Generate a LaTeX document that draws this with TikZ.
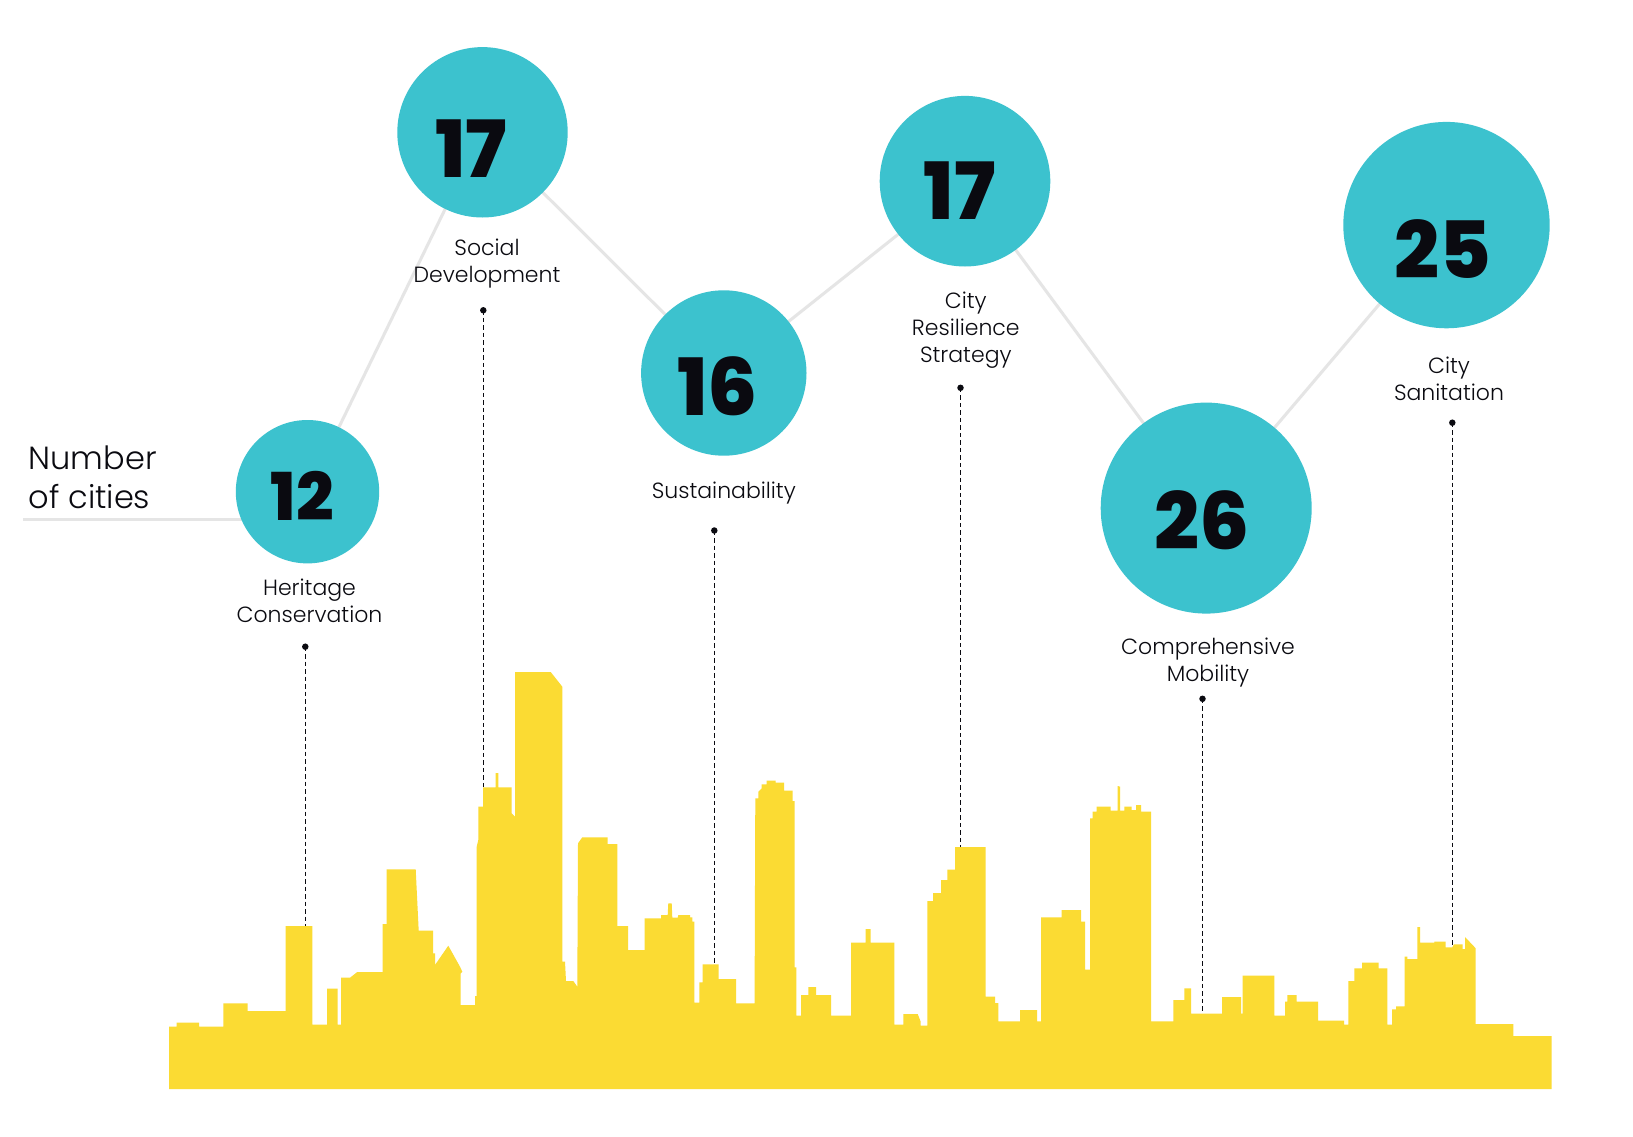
\documentclass[tikz,border=0pt]{standalone}
\usepackage{fontspec}
\usetikzlibrary{backgrounds}
\IfFontExistsTF{Poppins Light}{\newfontfamily\labelfont{Poppins Light}}{\newfontfamily\labelfont{Poppins}}
\IfFontExistsTF{Poppins ExtraBold}{\newfontfamily\numfontface{Poppins ExtraBold}\newcommand\numfont{\numfontface}}{\newfontfamily\numfontface{Poppins}\newcommand\numfont{\numfontface\bfseries}}
\definecolor{tealc}{HTML}{3CC2CE}
\definecolor{yellowc}{HTML}{FBDB33}
\definecolor{grayline}{HTML}{E5E5E5}
\definecolor{inkc}{HTML}{0A0A10}
\tikzset{
  bubble/.style={circle, fill=tealc, inner sep=0pt, draw=none},
  numtext/.style={inner sep=0pt, text=inkc, font=\numfont\fontsize{79}{81}\selectfont},
  numsmall/.style={inner sep=0pt, text=inkc, font=\numfont\fontsize{66}{68}\selectfont},
  lbl/.style={inner sep=0pt, anchor=north, align=center, text=inkc, font=\labelfont\fontsize{22}{27}\selectfont},
  conn/.style={draw=grayline, line width=3pt},
  dotn/.style={circle, fill=inkc, inner sep=0pt, minimum size=6.5pt},
  dashln/.style={draw=inkc, line width=1.3pt, dash pattern=on 4.5pt off 3pt},
  sky/.style={fill=yellowc, draw=none}
}
\begin{document}
\begin{tikzpicture}[x=1pt, y=-1pt]
\useasboundingbox (0,0) rectangle (1633,1137);
% bubbles
\node[bubble, minimum size=143.4pt] (c1) at (307.5,491.7) {};
\node[bubble, minimum size=170.4pt] (c2) at (482.5,132.3) {};
\node[bubble, minimum size=165.4pt] (c3) at (723.8,373.0) {};
\node[bubble, minimum size=170.6pt] (c4) at (965.0,181.2) {};
\node[bubble, minimum size=211.0pt] (c5) at (1206.2,508.1) {};
\node[bubble, minimum size=206.4pt] (c6) at (1446.5,225.1) {};
% numbers
\node[numsmall] (n1) at (302.5,495.7) {12};
\node[numtext] (n2) at (471.3,148.2) {17};
\node[numtext] (n3) at (717.5,386.2) {16};
\node[numtext] (n4) at (959.7,190.5) {17};
\node[numtext] (n5) at (1201.8,520.0) {26};
\node[numtext] (n6) at (1443.0,249.3) {25};
% axis title
\coordinate (nc) at (23.3,519);
\node[inner sep=0pt, anchor=north west, align=left, text=inkc, font=\labelfont\fontsize{32}{38.3}\selectfont] (ttl) at (28.5,442.8) {\strut Number\\\strut of cities};
\begin{scope}[on background layer]
  \fill[white] (0,0) rectangle (1633,1137);
  \draw[conn] (nc) -- (nc -| c1.center);
  \draw[conn] (c1.center) -- (c2.center);
  \draw[conn] (c2.center) -- (c3.center);
  \draw[conn] (c3.center) -- (c4.center);
  \draw[conn] (c4.center) -- (c5.center);
  \draw[conn] (c5.center) -- (c6.center);
\end{scope}
% labels
\node[lbl] (l1) at (309.5,576.8) {\strut Heritage\\\strut Conservation};
\node[lbl] (l2) at (487.0,236.8) {\strut Social\\\strut Development};
\node[lbl] (l3) at (723.8,479.4) {\strut Sustainability};
\node[lbl] (l4) at (965.8,289.4) {\strut City\\\strut Resilience\\\strut Strategy};
\node[lbl] (l5) at (1208.0,635.1) {\strut Comprehensive\\\strut Mobility};
\node[lbl] (l6) at (1449.0,354.0) {\strut City\\\strut Sanitation};
% skyline
\fill[sky] (169,1089) -- (169,1026.7) -- (176.7,1026.7) -- (176.7,1022.7) -- (199,1022.7) -- (199,1026.7) -- (223.3,1026.7) -- (223.3,1003.3) -- (247.7,1003.3) -- (247.7,1011) -- (285.7,1011) -- (285.7,926) -- (312.3,926) -- (312.3,1024.7) -- (327,1024.7) -- (327,988.7) -- (337.7,988.7) -- (337.7,1024.7) -- (341,1024.7) -- (341,977.7) -- (350,977.7) -- (357.3,972) -- (382.7,972) -- (382.7,924) -- (386.7,924) -- (386.7,869.3) -- (415.7,869.3) -- (418.7,930.7) -- (433,930.7) -- (433,953.3) -- (435,953.3) -- (435,965) -- (448.3,945.7) -- (460,966.7) -- (462.3,971.7) -- (460.7,973.3) -- (460.7,1005) -- (475,1005) -- (475,996) -- (476.7,996) -- (476.7,846.7) -- (478.3,840) -- (478.3,806.7) -- (483,806.7) -- (483,787.3) -- (495.7,787.3) -- (495.7,773) -- (498.3,773) -- (498.3,787.3) -- (511.7,787.3) -- (511.7,813.3) -- (515,816.7) -- (515,672) -- (550.7,672) -- (562.3,686.7) -- (562.3,961.7) -- (565,961.7) -- (566,981) -- (573.3,981) -- (577.3,986.7) -- (578,843.3) -- (582.3,837.3) -- (607.7,837.3) -- (607.7,844) -- (617.3,844) -- (617.3,926) -- (628,926) -- (628,950) -- (644.7,950) -- (644.7,918.3) -- (661,918.3) -- (661,915) -- (667.7,915) -- (668.3,903.3) -- (671.7,903.3) -- (672.3,917.7) -- (677.7,917.7) -- (678.3,915) -- (690,915) -- (690,917.3) -- (692.3,917.3) -- (692.3,921.7) -- (694.3,921.7) -- (694.3,1002.7) -- (699.3,1002.7) -- (699.3,982.3) -- (702.7,982.3) -- (702.7,964.3) -- (718.7,964.3) -- (718.7,979) -- (736,979) -- (736,1003.3) -- (754.7,1003.3) -- (754.7,967.7) -- (755.3,798.3) -- (758.3,798.3) -- (758.3,791.7) -- (761.7,788.3) -- (761.7,784.3) -- (766.7,784.3) -- (766.7,780.7) -- (775.7,780.7) -- (775.7,782.7) -- (784,782.7) -- (784,790.7) -- (792.7,790.7) -- (792.7,801) -- (794.7,801) -- (794.7,967.3) -- (796.3,967.3) -- (796.3,1015.7) -- (801,1015.7) -- (801,995) -- (808.3,995) -- (808.3,987) -- (816,987) -- (816,995) -- (831,995) -- (831,1015.7) -- (851,1015.7) -- (851,942.7) -- (865.7,942.7) -- (865.7,929) -- (870.7,929) -- (870.7,942.7) -- (894.3,942.7) -- (894.3,1024.7) -- (903.3,1024.7) -- (903.3,1014) -- (917.7,1014) -- (920.7,1021.7) -- (920.7,1025.7) -- (927.3,1025.7) -- (927.3,901) -- (933,901) -- (933,893) -- (941,893) -- (941,880) -- (947.3,880) -- (947.3,869.7) -- (955,869.7) -- (955,847) -- (985.7,847) -- (985.7,996.7) -- (995,996.7) -- (995,1003) -- (998.3,1003) -- (998.3,1021.3) -- (1020,1021.3) -- (1020,1010) -- (1037,1010) -- (1037,1021.3) -- (1041,1021.3) -- (1041,917.3) -- (1061.7,917.3) -- (1061.7,910) -- (1081,910) -- (1081,921.7) -- (1085,921.7) -- (1085,969.7) -- (1090,969.7) -- (1090,818.3) -- (1092.7,818.3) -- (1092.7,811.7) -- (1096.7,811.7) -- (1096.7,806.7) -- (1110.7,806.7) -- (1110.7,810.7) -- (1117.7,810.7) -- (1117.7,786) -- (1120,786.7) -- (1120,810.7) -- (1124.3,810.7) -- (1124.3,806.7) -- (1131.7,806.7) -- (1131.7,810) -- (1136,810) -- (1136,805) -- (1141,805) -- (1141,811.7) -- (1151,811.7) -- (1151,1021.3) -- (1173.3,1021.3) -- (1173.3,1000) -- (1184.3,1000) -- (1184.3,988.3) -- (1191,988.3) -- (1191,1013.7) -- (1222,1013.7) -- (1222,997) -- (1241,997) -- (1241,1013.7) -- (1242.7,1013.7) -- (1242.7,975.7) -- (1274.3,975.7) -- (1274.3,1015.7) -- (1285,1015.7) -- (1285,1001.7) -- (1287.3,1001.7) -- (1287.3,995) -- (1296.7,995) -- (1296.7,1001.7) -- (1318,1001.7) -- (1318,1020.7) -- (1344,1020.7) -- (1344,1024.7) -- (1348.3,1024.7) -- (1348.3,981) -- (1354.3,981) -- (1354.3,968.3) -- (1362,968.3) -- (1362,962.7) -- (1378.7,962.7) -- (1378.7,968.3) -- (1387.3,968.3) -- (1387.3,1024.7) -- (1392,1024.7) -- (1392,1009.3) -- (1396,1009.3) -- (1396,1006.3) -- (1404.7,1006.3) -- (1404.7,956.7) -- (1407.3,956.7) -- (1407.3,959) -- (1417.3,959) -- (1417.3,927) -- (1420,927) -- (1420,942.7) -- (1434.3,942.7) -- (1434.3,941.7) -- (1445.7,941.7) -- (1445.7,947.3) -- (1452.3,947.3) -- (1454,944.3) -- (1462.7,944.3) -- (1462.7,949) -- (1465,949) -- (1465,937) -- (1475.7,948.3) -- (1475.7,1024) -- (1513.3,1024) -- (1513.3,1036) -- (1551.7,1036) -- (1551.7,1089) -- cycle;
% leader dots and dashed drops
\coordinate (t1) at (305.3,926);
\coordinate (t2) at (483.3,787.3);
\coordinate (t3) at (714.3,964.3);
\coordinate (t4) at (960.5,847);
\coordinate (t5) at (1202.5,1013.7);
\coordinate (t6) at (1452.3,947.3);
\node[dotn] (d1) at (305.3,646.7) {};
\node[dotn] (d2) at (483.3,310.3) {};
\node[dotn] (d3) at (714.3,530.5) {};
\node[dotn] (d4) at (960.5,387.8) {};
\node[dotn] (d5) at (1202.5,698.8) {};
\node[dotn] (d6) at (1452.3,422.7) {};
\draw[dashln] (d1.center) -- (t1);
\draw[dashln] (d2.center) -- (t2);
\draw[dashln] (d3.center) -- (t3);
\draw[dashln] (d4.center) -- (t4);
\draw[dashln] (d5.center) -- (t5);
\draw[dashln] (d6.center) -- (t6);
\end{tikzpicture}
\end{document}
